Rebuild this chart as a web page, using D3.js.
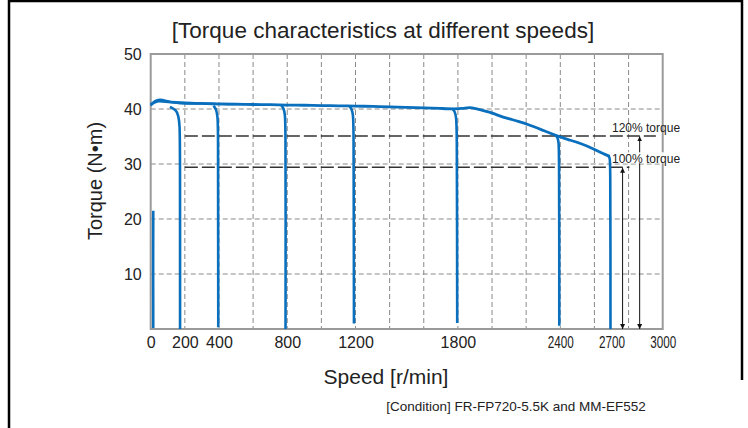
<!DOCTYPE html>
<html>
<head>
<meta charset="utf-8">
<script src="https://cdn.jsdelivr.net/npm/d3@7"></script>
<style>
  body { margin: 0; background: #fff; }
  text { font-family: "Liberation Sans", Arial, sans-serif; fill: #222; }
</style>
</head>
<body>
<div id="chart"></div>
<script>
// tick labels and grid
var speedLabels = [0, 200, 400, 800, 1200, 1800, 2400, 2700, 3000];
var smallLabels = [2400, 2700, 3000];
var gridSpeeds = [200, 400, 600, 800, 1000, 1200, 1400, 1600, 1800, 2000, 2200, 2400, 2600, 2800];
var torqueTicks = [10, 20, 30, 40, 50];

// top envelope of the torque curve (speed r/min, torque N.m)
var envSpeed  = [0, 20, 45, 70, 100, 150, 200, 260, 330, 400, 500, 600, 700, 800, 900, 1000, 1100, 1200, 1300, 1400, 1500, 1600, 1700, 1780, 1830, 1870, 1900, 1950, 2000, 2030, 2100, 2150, 2220, 2300, 2390, 2450, 2515, 2600, 2670, 2690];
var envTorque = [40.8, 41.2, 41.5, 41.4, 41.3, 41.2, 41.1, 41.0, 41.0, 40.9, 40.9, 40.8, 40.8, 40.7, 40.7, 40.6, 40.6, 40.5, 40.5, 40.4, 40.3, 40.2, 40.1, 40.0, 40.1, 40.3, 40.1, 39.7, 39.3, 38.9, 38.2, 37.8, 37.1, 36.1, 35.0, 34.4, 33.8, 32.7, 31.6, 31.4];
// second overlapping trace at low speed
var env2Speed  = [0, 25, 55, 90, 140, 200, 300, 420, 550];
var env2Torque = [40.6, 41.6, 41.8, 41.5, 41.1, 40.9, 41.1, 40.8, 40.9];

// drops at each set speed
var drop0    = [[15, 21.5], [14, 12], [15, 0.2]];
var drop200  = [[113, 40.4], [150, 39.8], [162, 38.8], [170, 37.2], [172, 33], [172, 0]];
var drop400  = [[368, 40.6], [385, 39.9], [392, 38.6], [395, 36.5], [395, 20], [396, 0.3]];
var drop800  = [[765, 40.7], [780, 40.1], [787, 39.0], [790, 37.0], [791, 20], [790, 0]];
var drop1200 = [[1165, 40.5], [1178, 40.0], [1186, 38.9], [1189, 36.8], [1190, 20], [1191, 1.0]];
var drop1800 = [[1765, 40.1], [1782, 39.6], [1790, 38.5], [1794, 36.4], [1795, 20], [1796, 1.1]];
var drop2400 = [[2372, 35.2], [2384, 34.9], [2390, 34.0], [2393, 32.5], [2394, 15], [2394, 0.6]];
var drop2700 = [[2680, 31.5], [2690, 31.2], [2693, 30.0], [2694, 15], [2694, 0]];
var drops = [drop0, drop200, drop400, drop800, drop1200, drop1800, drop2400, drop2700];

// reference torque lines
var refTorque = [35.1, 29.4];
var refStart = [200, 200];
var refEnd = [2960, 2805];
var refLabels = ["120% torque", "100% torque"];
var arrowSpeed = [2865, 2765];

var width = 748, height = 428;
var padL = 150.7, padR = 662.7, padT = 54, padB = 329;

var svg = d3.select("#chart").append("svg")
  .attr("width", width).attr("height", height);

var x = d3.scaleLinear().domain([0, 3000]).range([padL, padR]);
var y = d3.scaleLinear().domain([0, 50]).range([padB, padT]);

// outer frame
svg.append("path")
  .attr("d", "M9,428 V1 H742 V380")
  .attr("fill", "none").attr("stroke", "#000").attr("stroke-width", 2.5);

// grid
svg.append("g").selectAll("line").data(gridSpeeds).enter().append("line")
  .attr("x1", d => x(d)).attr("x2", d => x(d))
  .attr("y1", padT).attr("y2", padB)
  .attr("stroke", "#8a8a8a").attr("stroke-width", 1).attr("stroke-dasharray", "5,3");
svg.append("g").selectAll("line").data(torqueTicks.slice(0, 4)).enter().append("line")
  .attr("x1", padL).attr("x2", padR)
  .attr("y1", d => y(d)).attr("y2", d => y(d))
  .attr("stroke", "#8a8a8a").attr("stroke-width", 1).attr("stroke-dasharray", "5,3");

// plot frame
svg.append("rect")
  .attr("x", padL).attr("y", padT)
  .attr("width", padR - padL).attr("height", padB - padT)
  .attr("fill", "none").attr("stroke", "#9a9a9a").attr("stroke-width", 2);

// axes labels
var xaxis = d3.axisBottom(x).tickValues(speedLabels).tickFormat(d3.format("d")).tickSize(0).tickPadding(8);
var gx = svg.append("g").attr("transform", "translate(0," + padB + ")").call(xaxis);
gx.select(".domain").remove();
gx.selectAll("text")
  .style("font-size", "16px")
  .style("font-family", '"Liberation Sans", Arial, sans-serif')
  .attr("fill", "#222");
gx.selectAll("text").filter(d => smallLabels.indexOf(d) >= 0)
  .attr("textLength", 26).attr("lengthAdjust", "spacingAndGlyphs");

var yaxis = d3.axisLeft(y).tickValues(torqueTicks).tickSize(0).tickPadding(9);
var gy = svg.append("g").attr("transform", "translate(" + padL + ",0)").call(yaxis);
gy.select(".domain").remove();
gy.selectAll("text")
  .style("font-size", "16px")
  .style("font-family", '"Liberation Sans", Arial, sans-serif')
  .attr("fill", "#222");

// reference dashed lines
svg.append("g").selectAll("line").data(refTorque).enter().append("line")
  .attr("x1", (d, i) => x(refStart[i])).attr("x2", (d, i) => x(refEnd[i]))
  .attr("y1", d => y(d)).attr("y2", d => y(d))
  .attr("stroke", "#333").attr("stroke-width", 1.6).attr("stroke-dasharray", "13,4");

// curves
var line = d3.line().x(d => x(d[0])).y(d => y(d[1])).curve(d3.curveBasis);
var blue = "#0a6fbd";
svg.append("path")
  .attr("d", line(env2Speed.map((s, i) => [s, env2Torque[i]])))
  .attr("fill", "none").attr("stroke", blue).attr("stroke-width", 2.2);
svg.append("path")
  .attr("d", line(envSpeed.map((s, i) => [s, envTorque[i]])))
  .attr("fill", "none").attr("stroke", blue).attr("stroke-width", 2.8);
svg.append("g").selectAll("path").data(drops).enter().append("path")
  .attr("d", d => line(d))
  .attr("fill", "none").attr("stroke", blue).attr("stroke-width", 2.6);

// arrows
var defs = svg.append("defs");
defs.append("marker").attr("id", "ah").attr("viewBox", "0 0 10 10")
  .attr("refX", 10).attr("refY", 5).attr("markerWidth", 5).attr("markerHeight", 8)
  .attr("markerUnits", "userSpaceOnUse").attr("orient", "auto-start-reverse")
  .append("path").attr("d", "M0,0 L10,5 L0,10 Z").attr("fill", "#111");

svg.append("g").selectAll("line").data(arrowSpeed).enter().append("line")
  .attr("x1", d => x(d)).attr("x2", d => x(d))
  .attr("y1", (d, i) => y(refTorque[i]) + 0.5).attr("y2", padB)
  .attr("stroke", "#111").attr("stroke-width", 1)
  .attr("marker-start", "url(#ah)").attr("marker-end", "url(#ah)");

// labels for reference lines (white box hides the arrow behind)
var lab = svg.append("g").selectAll("g").data(refLabels).enter().append("g");
lab.append("rect")
  .attr("x", 612).attr("y", (d, i) => y(refTorque[i]) - 15)
  .attr("width", 69).attr("height", 11)
  .attr("fill", "#fff")
  .attr("display", (d, i) => i === 1 ? null : "none");
lab.append("text")
  .attr("x", 612).attr("y", (d, i) => y(refTorque[i]) - 4)
  .style("font-size", "12px")
  .text(d => d);

// titles
svg.append("text")
  .attr("x", 383).attr("y", 38)
  .attr("text-anchor", "middle")
  .style("font-size", "22.5px")
  .text("[Torque characteristics at different speeds]");

svg.append("text")
  .attr("transform", "translate(102,181) rotate(-90)")
  .attr("text-anchor", "middle")
  .style("font-size", "20px")
  .text("Torque (N\u2022m)");

svg.append("text")
  .attr("x", 386).attr("y", 384)
  .attr("text-anchor", "middle")
  .style("font-size", "21px")
  .text("Speed [r/min]");

svg.append("text")
  .attr("x", 516).attr("y", 411)
  .attr("text-anchor", "middle")
  .style("font-size", "13.5px")
  .text("[Condition] FR-FP720-5.5K and MM-EF552");
</script>
</body>
</html>
